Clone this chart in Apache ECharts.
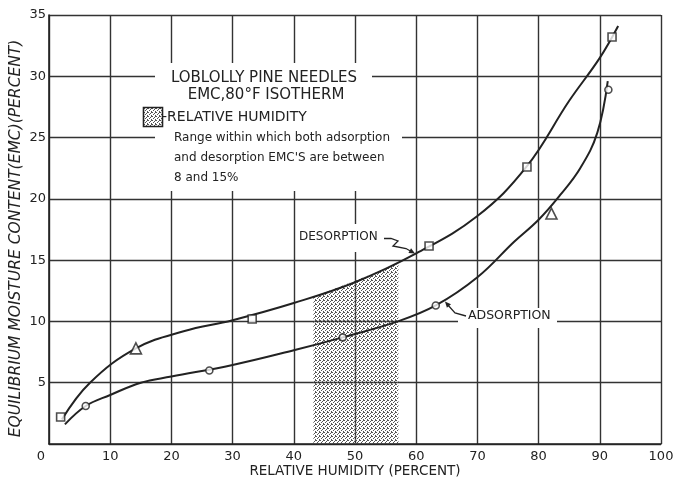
<!DOCTYPE html>
<html>
<head>
<meta charset="utf-8">
<script src="https://cdn.jsdelivr.net/npm/echarts@6.0.0/dist/echarts.min.js"></script>
<style>
  html, body { margin: 0; padding: 0; background: #fff; }
  #main { width: 674px; height: 485px; }
</style>
</head>
<body>
<div id="main"></div>
<script>
// 数据
var xTicks = [0, 10, 20, 30, 40, 50, 60, 70, 80, 90, 100];
var yTicks = [0, 5, 10, 15, 20, 25, 30, 35];

var desorptionCurve = [[2.1, 2.0], [6.7, 5.0], [14.2, 7.8], [22, 9.2], [30, 10.1],
	[40, 11.5], [50, 13.2], [60, 15.55], [70, 18.6], [78, 22.6], [85, 28.0], [90, 31.5], [93, 34.1]];
var adsorptionCurve = [[2.6, 1.6], [6, 3.1], [10, 4.0], [15, 5.0], [20, 5.5], [30, 6.45],
	[40, 7.65], [48, 8.7], [57, 10.0], [63.2, 11.3], [70, 13.6], [76, 16.5], [80, 18.3], [83.5, 20.3],
	[86.8, 22.5], [89.6, 25.4], [91.3, 29.6]];

var squarePoints = [[1.9, 2.2], [33.2, 10.2], [62.1, 16.15], [78.1, 22.6], [92.0, 33.2]];
var trianglePoints = [[14.2, 7.8], [82.1, 18.8]];
var circlePoints = [[6.0, 3.1], [26.2, 6.0], [48.0, 8.7], [63.2, 11.3], [91.4, 28.9]];

// 8%-15% 区间
var rangeTop = [[43.2, 12.0], [57.1, 14.7]];

var ink = '#222';
var font = "'DejaVu Sans', sans-serif";

var makeStipple = function(){
	var c = document.createElement('canvas');
	c.width = 4; c.height = 4;
	var g = c.getContext('2d');
	g.fillStyle = '#555';
	var dots = [[0, 0], [2, 1], [1, 2], [3, 3], [3, 0]];
	for (var i = 0; i < dots.length; i++) {
		g.fillRect(dots[i][0], dots[i][1], 1, 1);
	}
	return c;
};
var stipple = { image: makeStipple(), repeat: 'repeat' };

var arrowHead = function(tip, from, size){
	var dx = tip[0] - from[0], dy = tip[1] - from[1];
	var len = Math.sqrt(dx * dx + dy * dy);
	var ux = dx / len, uy = dy / len;
	var bx = tip[0] - ux * size, by = tip[1] - uy * size;
	return {
		type: 'polygon', z: 6,
		shape: { points: [tip, [bx - uy * size * 0.45, by + ux * size * 0.45], [bx + uy * size * 0.45, by - ux * size * 0.45]] },
		style: { fill: ink }
	};
};

var whiteBox = function(x, y, w, h){
	return { type: 'rect', z: 3, shape: { x: x, y: y, width: w, height: h }, style: { fill: '#fff' } };
};
var label = function(x, y, text, size, align){
	return {
		type: 'text', z: 5, x: x, y: y,
		style: { text: text, fill: ink, fontSize: size, fontFamily: font, textAlign: align || 'left', textVerticalAlign: 'middle' }
	};
};

var desLeader = [[384, 238.5], [391, 238.5], [398, 241], [393, 246], [406, 248.5], [413, 252.5]];
var adsLeader = [[466, 316], [455, 313], [447, 304]];

var myChart = echarts.init(document.getElementById('main'), null, { renderer: 'canvas' });

var option = {
	animation: false,
	backgroundColor: '#fff',
	grid: { left: 49, right: 13, top: 15, bottom: 41, containLabel: false, outerBoundsMode: 'none' },
	xAxis: {
		type: 'value', min: xTicks[0], max: xTicks[xTicks.length - 1], interval: 10,
		name: 'RELATIVE HUMIDITY (PERCENT)', nameLocation: 'middle', nameGap: 20, nameMoveOverlap: false,
		nameTextStyle: { color: ink, fontFamily: font, fontSize: 13.5, verticalAlign: 'top' },
		axisLine: { show: true, onZero: false, lineStyle: { color: ink, width: 1.6 } },
		axisTick: { show: false },
		splitLine: { show: true, lineStyle: { color: '#333', width: 1.4 } },
		axisLabel: {
			margin: 6, color: ink, fontFamily: font, fontSize: 13,
			formatter: function(v){ return v === 0 ? '{z|0}' : String(v); },
			rich: { z: { padding: [0, 16, 0, 0], color: ink, fontFamily: font, fontSize: 13 } }
		}
	},
	yAxis: {
		type: 'value', min: yTicks[0], max: yTicks[yTicks.length - 1], interval: 5,
		name: 'EQUILIBRIUM MOISTURE CONTENT(EMC)(PERCENT)', nameLocation: 'middle', nameGap: 25, nameMoveOverlap: false,
		nameTextStyle: { color: ink, fontFamily: font, fontSize: 15.5, fontStyle: 'italic', padding: [0, 18, 0, 0] },
		axisLine: { show: true, onZero: false, lineStyle: { color: ink, width: 1.6 } },
		axisTick: { show: false },
		splitLine: { show: true, lineStyle: { color: '#333', width: 1.4 } },
		axisLabel: {
			margin: 3, color: ink, fontFamily: font, fontSize: 13,
			formatter: function(v){ return v === 0 ? '' : String(v); }
		}
	},
	series: [
		{
			type: 'line', data: rangeTop, symbol: 'none', z: 1,
			lineStyle: { width: 0 },
			areaStyle: { color: stipple, opacity: 1 }
		},
		{
			type: 'line', data: desorptionCurve, symbol: 'none', smooth: 0.4,
			lineStyle: { color: ink, width: 2 }
		},
		{
			type: 'line', data: adsorptionCurve, symbol: 'none', smooth: 0.4,
			lineStyle: { color: ink, width: 2 }
		},
		{
			type: 'scatter', data: squarePoints, symbol: 'rect', symbolSize: 8, z: 4,
			itemStyle: { color: '#fff', borderColor: ink, borderWidth: 1.6 }
		},
		{
			type: 'scatter', data: trianglePoints, symbol: 'triangle', symbolSize: 11, z: 4,
			itemStyle: { color: '#fff', borderColor: ink, borderWidth: 1.6 }
		},
		{
			type: 'scatter', data: circlePoints, symbol: 'circle', symbolSize: 7, z: 4,
			itemStyle: { color: '#fff', borderColor: ink, borderWidth: 1.6 }
		}
	],
	graphic: [
		whiteBox(155, 63, 217, 128),
		whiteBox(372, 128, 30, 19),
		whiteBox(298, 224, 90, 28),
		whiteBox(458, 308, 99, 20),
		label(264, 78, 'LOBLOLLY PINE NEEDLES', 15, 'center'),
		label(266, 95, 'EMC,80°F ISOTHERM', 15, 'center'),
		{
			type: 'rect', z: 5, shape: { x: 143.5, y: 107.5, width: 19, height: 19 },
			style: { fill: stipple, stroke: ink, lineWidth: 1.6 }
		},
		label(162, 117, '-RELATIVE HUMIDITY', 14),
		label(174, 138, 'Range within which both adsorption', 12),
		label(174, 158, "and desorption EMC'S are between", 12),
		label(174, 178, '8 and 15%', 12),
		label(299, 237, 'DESORPTION', 12),
		label(468, 316, 'ADSORPTION', 12.5),
		{ type: 'polyline', z: 6, shape: { points: desLeader }, style: { stroke: ink, lineWidth: 1.3, fill: null } },
		arrowHead([415, 253.5], desLeader[desLeader.length - 2], 6),
		{ type: 'polyline', z: 6, shape: { points: adsLeader }, style: { stroke: ink, lineWidth: 1.3, fill: null } },
		arrowHead([445, 301.5], adsLeader[1], 6)
	]
};

myChart.setOption(option);
</script>
</body>
</html>
